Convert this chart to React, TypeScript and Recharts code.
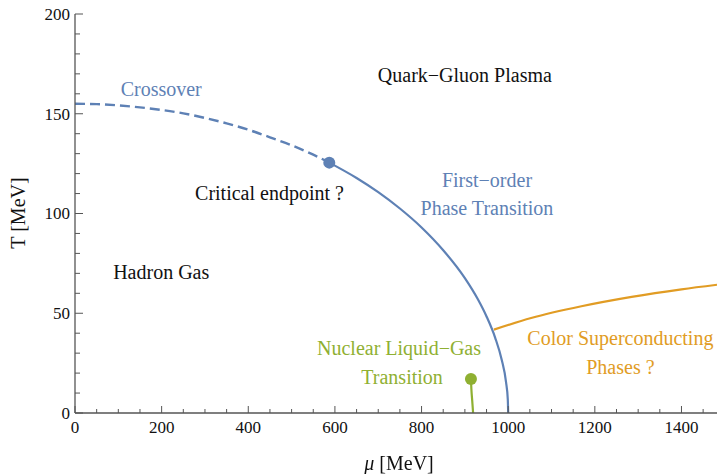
import {
  ComposedChart,
  Line,
  XAxis,
  YAxis,
  ReferenceDot,
} from 'recharts';

const BLUE = '#5E81B5';
const ORANGE = '#E19C24';
const GREEN = '#8FB032';
const FRAME = '#555';
const FONT = '"Liberation Serif", "Times New Roman", serif';

// crossover (dashed) up to the critical endpoint
const crossover = [
  { mu: 0, T: 155 },
  { mu: 50, T: 154.8 },
  { mu: 100, T: 154.2 },
  { mu: 150, T: 153.2 },
  { mu: 200, T: 151.9 },
  { mu: 250, T: 150.2 },
  { mu: 300, T: 147.9 },
  { mu: 350, T: 145.2 },
  { mu: 400, T: 142 },
  { mu: 450, T: 138.2 },
  { mu: 500, T: 134.2 },
  { mu: 550, T: 129.5 },
  { mu: 587, T: 125.5 },
];

// first-order line
const firstOrder = [
  { mu: 587, T: 125.5 },
  { mu: 650, T: 117.8 },
  { mu: 700, T: 110.7 },
  { mu: 750, T: 102.5 },
  { mu: 800, T: 93 },
  { mu: 850, T: 81.6 },
  { mu: 900, T: 67.6 },
  { mu: 930, T: 57 },
  { mu: 950, T: 48.4 },
  { mu: 970, T: 37.7 },
  { mu: 985, T: 26.7 },
  { mu: 995, T: 15.5 },
  { mu: 999, T: 7 },
  { mu: 1000, T: 0 },
];

const colorSC = [
  { mu: 967, T: 41.8 },
  { mu: 1053, T: 47.6 },
  { mu: 1169, T: 53.5 },
  { mu: 1285, T: 58.2 },
  { mu: 1400, T: 62 },
  { mu: 1482, T: 64.3 },
];

const nuclear = [
  { mu: 919, T: 0 },
  { mu: 917, T: 6 },
  { mu: 915, T: 12 },
  { mu: 914, T: 17 },
];

const criticalPoint = { mu: 587, T: 125.5 };
const nuclearEnd = { mu: 914, T: 17 };

const xTicks = [
  0, 50, 100, 150, 200, 250, 300, 350, 400, 450, 500, 550, 600, 650, 700, 750,
  800, 850, 900, 950, 1000, 1050, 1100, 1150, 1200, 1250, 1300, 1350, 1400, 1450,
];
const yTicks = [
  0, 10, 20, 30, 40, 50, 60, 70, 80, 90, 100, 110, 120, 130, 140, 150, 160, 170,
  180, 190, 200,
];

const annotations = [
  { mu: 199, T: 162.5, text: 'Crossover', color: BLUE },
  { mu: 900, T: 169.5, text: 'Quark\u2212Gluon Plasma', color: '#111' },
  { mu: 449, T: 110.5, text: 'Critical endpoint ?', color: '#111' },
  { mu: 951, T: 117, text: 'First\u2212order', color: BLUE },
  { mu: 951, T: 103, text: 'Phase Transition', color: BLUE },
  { mu: 199, T: 70.5, text: 'Hadron Gas', color: '#111' },
  { mu: 748, T: 32.5, text: 'Nuclear Liquid\u2212Gas', color: GREEN },
  { mu: 755, T: 18, text: 'Transition', color: GREEN },
  { mu: 1259, T: 37.5, text: 'Color Superconducting', color: ORANGE },
  { mu: 1259, T: 23, text: 'Phases ?', color: ORANGE },
];

function BottomTick(props: any) {
  const { x, y, payload } = props;
  const major = payload.value % 200 === 0;
  return (
    <g>
      <line x1={x} y1={y} x2={x} y2={y - (major ? 7 : 4)} stroke={FRAME} strokeWidth={1} />
      {major && (
        <text x={x} y={y + 20} textAnchor="middle" fontSize={17} fontFamily={FONT} fill="#111">
          {payload.value}
        </text>
      )}
    </g>
  );
}

function TopTick(props: any) {
  const { x, y, payload } = props;
  const major = payload.value % 200 === 0;
  return <line x1={x} y1={y} x2={x} y2={y + (major ? 7 : 4)} stroke={FRAME} strokeWidth={1} />;
}

function LeftTick(props: any) {
  const { x, y, payload } = props;
  const major = payload.value % 50 === 0;
  return (
    <g>
      <line x1={x} y1={y} x2={x + (major ? 8 : 5)} y2={y} stroke={FRAME} strokeWidth={1} />
      {major && (
        <text x={x - 5} y={y} dy="0.35em" textAnchor="end" fontSize={17} fontFamily={FONT} fill="#111">
          {payload.value}
        </text>
      )}
    </g>
  );
}

export default function App() {
  return (
    <div style={{ position: 'fixed', left: 0, top: 0, width: 717, height: 474, background: '#fff' }}>
      <ComposedChart width={717} height={474} margin={{ top: 14, right: 0, bottom: 11, left: 15 }}>
        <XAxis
          dataKey="mu"
          type="number"
          domain={[0, 1482]}
          ticks={xTicks}
          interval={0}
          height={50}
          tickSize={0}
          tickMargin={0}
          tickLine={false}
          tick={<BottomTick />}
          axisLine={{ stroke: FRAME, strokeWidth: 1.3 }}
          allowDataOverflow
        />
        <XAxis
          xAxisId="top"
          orientation="top"
          dataKey="mu"
          type="number"
          domain={[0, 1482]}
          ticks={xTicks}
          interval={0}
          height={0}
          tickSize={0}
          tickMargin={0}
          tickLine={false}
          tick={<TopTick />}
          axisLine={{ stroke: FRAME, strokeWidth: 1.3 }}
          allowDataOverflow
        />
        <YAxis
          type="number"
          domain={[0, 200]}
          ticks={yTicks}
          interval={0}
          width={60}
          tickSize={0}
          tickMargin={0}
          tickLine={false}
          tick={<LeftTick />}
          axisLine={{ stroke: FRAME, strokeWidth: 1.3 }}
          allowDataOverflow
        />
        <Line
          data={crossover}
          dataKey="T"
          type="monotone"
          stroke={BLUE}
          strokeWidth={2.4}
          strokeDasharray="10 5"
          dot={false}
          isAnimationActive={false}
        />
        <Line
          data={firstOrder}
          dataKey="T"
          type="monotone"
          stroke={BLUE}
          strokeWidth={2.2}
          dot={false}
          isAnimationActive={false}
        />
        <Line
          data={colorSC}
          dataKey="T"
          type="monotone"
          stroke={ORANGE}
          strokeWidth={2.2}
          dot={false}
          isAnimationActive={false}
        />
        <Line
          data={nuclear}
          dataKey="T"
          type="monotone"
          stroke={GREEN}
          strokeWidth={2.2}
          dot={false}
          isAnimationActive={false}
        />
        <ReferenceDot x={criticalPoint.mu} y={criticalPoint.T} r={6} fill={BLUE} stroke="none" />
        <ReferenceDot x={nuclearEnd.mu} y={nuclearEnd.T} r={6} fill={GREEN} stroke="none" />
        {annotations.map((a) => (
          <ReferenceDot
            key={a.text}
            x={a.mu}
            y={a.T}
            r={0}
            shape={(p: any) => (
              <text
                x={p.cx}
                y={p.cy}
                dy="0.35em"
                textAnchor="middle"
                fontSize={20}
                fontFamily={FONT}
                fill={a.color}
              >
                {a.text}
              </text>
            )}
          />
        ))}
      </ComposedChart>
      <div
        style={{
          position: 'absolute',
          left: 399,
          top: 463,
          transform: 'translate(-50%, -50%)',
          fontFamily: FONT,
          fontSize: 20,
          color: '#111',
          whiteSpace: 'nowrap',
        }}
      >
        <i>μ</i> [MeV]
      </div>
      <div
        style={{
          position: 'absolute',
          left: 18,
          top: 213,
          transform: 'translate(-50%, -50%) rotate(-90deg)',
          fontFamily: FONT,
          fontSize: 20,
          color: '#111',
          whiteSpace: 'nowrap',
        }}
      >
        T [MeV]
      </div>
    </div>
  );
}
